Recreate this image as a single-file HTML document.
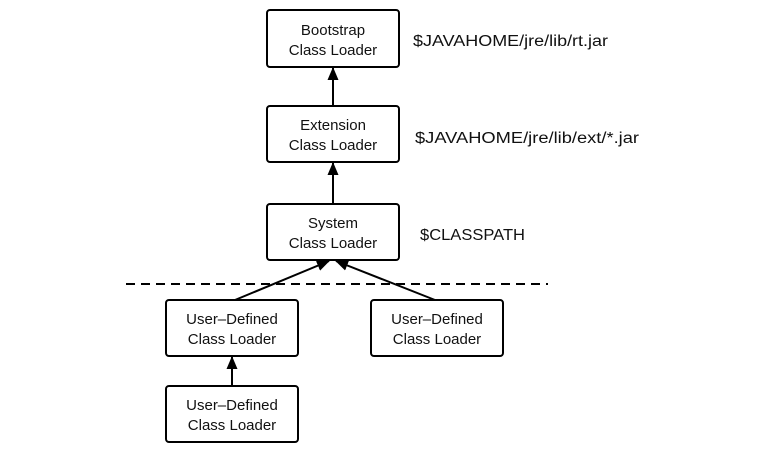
<!DOCTYPE html>
<html><head><meta charset="utf-8"><style>html,body{margin:0;padding:0;background:#fff}svg{display:block}</style></head>
<body>
<svg width="768" height="456" xmlns="http://www.w3.org/2000/svg" font-family="Liberation Sans, sans-serif">
<defs><marker id="a" markerWidth="13" markerHeight="11" refX="12" refY="5.5" orient="auto" markerUnits="userSpaceOnUse"><path d="M0,0 L13,5.5 L0,11 z" fill="#000"/></marker></defs>
<g fill="#fff" stroke="#000" stroke-width="2">
<rect x="267" y="10" width="132" height="57" rx="3"/>
<rect x="267" y="106" width="132" height="56" rx="3"/>
<rect x="267" y="204" width="132" height="56" rx="3"/>
<rect x="166" y="300" width="132" height="56" rx="3"/>
<rect x="371" y="300" width="132" height="56" rx="3"/>
<rect x="166" y="386" width="132" height="56" rx="3"/>
</g>
<g stroke="#000" stroke-width="2" fill="none">
<line x1="333" y1="106" x2="333" y2="68" marker-end="url(#a)"/>
<line x1="333" y1="204" x2="333" y2="163" marker-end="url(#a)"/>
<line x1="232" y1="386" x2="232" y2="357" marker-end="url(#a)"/>
<line x1="235" y1="300" x2="329" y2="261" marker-end="url(#a)"/>
<line x1="435" y1="300" x2="336" y2="261" marker-end="url(#a)"/>
<line x1="126" y1="284" x2="548" y2="284" stroke-dasharray="9,6"/>
</g>
<g font-size="15" text-anchor="middle" fill="#111">
<text x="333" y="35">Bootstrap</text><text x="333" y="55">Class Loader</text>
<text x="333" y="130">Extension</text><text x="333" y="150">Class Loader</text>
<text x="333" y="228">System</text><text x="333" y="248">Class Loader</text>
<text x="232" y="324">User–Defined</text><text x="232" y="344">Class Loader</text>
<text x="437" y="324">User–Defined</text><text x="437" y="344">Class Loader</text>
<text x="232" y="410">User–Defined</text><text x="232" y="430">Class Loader</text>
</g>
<g font-size="15.5" fill="#111">
<text x="413" y="46" textLength="195" lengthAdjust="spacingAndGlyphs">$JAVAHOME/jre/lib/rt.jar</text>
<text x="415" y="143" textLength="224" lengthAdjust="spacingAndGlyphs">$JAVAHOME/jre/lib/ext/*.jar</text>
<text x="420" y="240" textLength="105" lengthAdjust="spacingAndGlyphs">$CLASSPATH</text>
</g>
</svg>
</body></html>
